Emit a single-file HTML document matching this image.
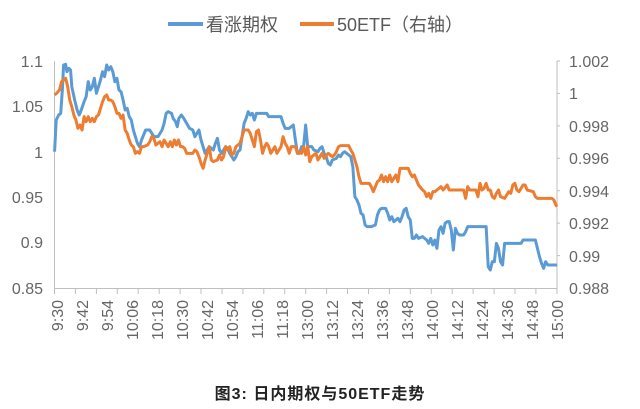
<!DOCTYPE html>
<html><head><meta charset="utf-8"><style>
body{margin:0;background:#fff;}
svg{display:block;font-family:"Liberation Sans","Noto Sans CJK SC",sans-serif;}
</style></head><body>
<svg width="640" height="409" viewBox="0 0 640 409">
<g fill="#666" font-size="16">
<text x="43" y="67" text-anchor="end">1.1</text>
<text x="43" y="112" text-anchor="end">1.05</text>
<text x="43" y="158" text-anchor="end">1</text>
<text x="43" y="203" text-anchor="end">0.95</text>
<text x="43" y="248" text-anchor="end">0.9</text>
<text x="43" y="294" text-anchor="end">0.85</text>
<text x="569" y="67">1.002</text>
<text x="569" y="99">1</text>
<text x="569" y="132">0.998</text>
<text x="569" y="164">0.996</text>
<text x="569" y="197">0.994</text>
<text x="569" y="229">0.992</text>
<text x="569" y="262">0.99</text>
<text x="569" y="294">0.988</text>
</g>
<g stroke="#bfbfbf" stroke-width="1" fill="none">
<line x1="54.5" y1="61" x2="54.5" y2="288"/>
<line x1="54.5" y1="288.5" x2="557" y2="288.5"/>
<line x1="557" y1="61" x2="557" y2="294"/>
</g>
<g stroke="#bfbfbf">
<line x1="54.5" y1="288" x2="54.5" y2="294"/><line x1="75.4" y1="288" x2="75.4" y2="294"/><line x1="96.4" y1="288" x2="96.4" y2="294"/><line x1="117.3" y1="288" x2="117.3" y2="294"/><line x1="138.2" y1="288" x2="138.2" y2="294"/><line x1="159.2" y1="288" x2="159.2" y2="294"/><line x1="180.1" y1="288" x2="180.1" y2="294"/><line x1="201" y1="288" x2="201" y2="294"/><line x1="222" y1="288" x2="222" y2="294"/><line x1="242.9" y1="288" x2="242.9" y2="294"/><line x1="263.8" y1="288" x2="263.8" y2="294"/><line x1="284.7" y1="288" x2="284.7" y2="294"/><line x1="305.7" y1="288" x2="305.7" y2="294"/><line x1="326.6" y1="288" x2="326.6" y2="294"/><line x1="347.5" y1="288" x2="347.5" y2="294"/><line x1="368.5" y1="288" x2="368.5" y2="294"/><line x1="389.4" y1="288" x2="389.4" y2="294"/><line x1="410.3" y1="288" x2="410.3" y2="294"/><line x1="431.3" y1="288" x2="431.3" y2="294"/><line x1="452.2" y1="288" x2="452.2" y2="294"/><line x1="473.1" y1="288" x2="473.1" y2="294"/><line x1="494.1" y1="288" x2="494.1" y2="294"/><line x1="515" y1="288" x2="515" y2="294"/><line x1="535.9" y1="288" x2="535.9" y2="294"/>
<line x1="557" y1="61" x2="560" y2="61"/><line x1="557" y1="93.4" x2="560" y2="93.4"/><line x1="557" y1="125.9" x2="560" y2="125.9"/><line x1="557" y1="158.3" x2="560" y2="158.3"/><line x1="557" y1="190.7" x2="560" y2="190.7"/><line x1="557" y1="223.1" x2="560" y2="223.1"/><line x1="557" y1="255.6" x2="560" y2="255.6"/>
</g>
<g fill="#666" font-size="16">
<text transform="translate(63,300) rotate(-90)" text-anchor="end">9:30</text>
<text transform="translate(88,300) rotate(-90)" text-anchor="end">9:42</text>
<text transform="translate(113,300) rotate(-90)" text-anchor="end">9:54</text>
<text transform="translate(138,300) rotate(-90)" text-anchor="end">10:06</text>
<text transform="translate(163,300) rotate(-90)" text-anchor="end">10:18</text>
<text transform="translate(188,300) rotate(-90)" text-anchor="end">10:30</text>
<text transform="translate(213,300) rotate(-90)" text-anchor="end">10:42</text>
<text transform="translate(238,300) rotate(-90)" text-anchor="end">10:54</text>
<text transform="translate(263,300) rotate(-90)" text-anchor="end">11:06</text>
<text transform="translate(288,300) rotate(-90)" text-anchor="end">11:18</text>
<text transform="translate(313,300) rotate(-90)" text-anchor="end">13:00</text>
<text transform="translate(338,300) rotate(-90)" text-anchor="end">13:12</text>
<text transform="translate(363,300) rotate(-90)" text-anchor="end">13:24</text>
<text transform="translate(388,300) rotate(-90)" text-anchor="end">13:36</text>
<text transform="translate(413,300) rotate(-90)" text-anchor="end">13:48</text>
<text transform="translate(438,300) rotate(-90)" text-anchor="end">14:00</text>
<text transform="translate(463,300) rotate(-90)" text-anchor="end">14:12</text>
<text transform="translate(488,300) rotate(-90)" text-anchor="end">14:24</text>
<text transform="translate(513,300) rotate(-90)" text-anchor="end">14:36</text>
<text transform="translate(538,300) rotate(-90)" text-anchor="end">14:48</text>
<text transform="translate(563,300) rotate(-90)" text-anchor="end">15:00</text>
</g>
<g transform="scale(0.41026,0.33333)" fill="none" stroke-linejoin="round">
<polyline vector-effect="non-scaling-stroke" stroke="#5b9bd5" stroke-width="3" points="133,455 137,360 143,345 148,340 152,270 155,195 160,193 163,215 168,205 172,210 175,260 182,300 188,330 193,345 198,330 205,305 210,290 215,245 220,270 225,260 230,235 235,280 240,260 245,240 250,215 255,230 260,195 265,210 270,200 275,215 280,245 285,235 290,270 295,275 300,300 305,330 310,325 315,350 320,360 325,390 330,410 335,430 340,440 345,420 350,405 355,390 360,390 365,390 370,400 375,410 385,410 395,390 400,370 405,340 410,335 418,340 422,355 428,365 432,380 436,355 442,345 448,355 455,370 462,385 470,390 475,410 480,400 485,390 490,420 495,440 500,460 505,450 510,440 520,450 525,430 530,415 535,450 540,460 545,450 550,440 555,445 560,460 565,470 570,480 575,470 580,455 585,450 590,410 595,370 600,355 605,335 610,345 615,340 620,360 625,340 650,340 655,350 685,350 690,370 695,385 705,385 710,380 715,375 720,420 725,460 730,460 735,440 740,440 745,375 750,440 760,440 765,450 775,455 780,445 785,440 790,460 795,470 800,490 805,495 810,480 820,475 825,465 830,470 835,460 840,455 845,460 850,465 855,470 860,500 865,590 870,600 875,615 880,640 885,645 890,675 895,680 905,680 915,675 920,645 925,630 930,625 940,625 945,640 950,660 955,650 960,665 970,655 975,665 980,650 985,630 990,625 995,650 1000,660 1005,715 1010,715 1015,705 1020,715 1030,710 1040,720 1045,730 1050,715 1055,735 1060,720 1065,745 1070,690 1075,680 1080,700 1085,670 1090,665 1095,665 1100,690 1105,750 1110,685 1115,700 1120,705 1130,705 1135,695 1140,680 1185,680 1190,800 1195,810 1200,785 1205,785 1210,730 1215,745 1220,785 1225,795 1230,730 1270,730 1275,720 1305,720 1310,745 1315,770 1320,790 1325,805 1330,785 1335,795 1358,795"/>
<polyline vector-effect="non-scaling-stroke" stroke="#ed7d31" stroke-width="3" points="133,285 138,280 145,270 150,245 155,240 160,235 165,260 170,300 175,320 180,345 185,360 190,385 195,375 200,390 205,350 210,365 215,350 220,365 225,355 230,365 235,350 240,345 245,325 250,305 255,290 260,285 265,300 270,300 275,305 280,320 285,340 290,340 295,355 300,345 305,390 310,400 315,420 320,435 325,440 330,460 335,455 340,460 345,440 350,440 360,435 365,425 370,410 375,415 380,435 385,430 390,425 395,440 400,420 405,430 410,440 415,425 420,440 425,420 430,435 435,420 440,440 445,440 450,445 455,460 470,460 475,450 480,455 485,470 490,490 495,505 500,480 505,460 510,440 515,480 520,485 530,480 535,465 540,480 545,470 550,440 555,450 560,440 565,465 570,460 575,440 580,435 585,430 590,410 595,390 605,390 610,400 615,420 620,440 625,395 630,390 635,420 640,460 645,440 650,430 655,440 660,460 670,440 675,460 680,450 685,440 690,410 695,430 700,440 705,460 710,440 720,440 725,460 730,455 735,460 740,440 745,465 750,440 755,485 760,470 770,460 775,480 780,470 785,460 790,475 800,460 810,470 815,465 820,455 825,440 830,437 850,437 855,450 860,460 870,500 875,530 880,550 900,550 905,560 910,575 915,560 920,545 925,540 930,525 935,545 940,530 945,545 950,525 955,545 960,535 965,525 970,545 975,505 995,505 1000,520 1005,530 1010,525 1015,540 1020,555 1030,570 1035,575 1040,590 1045,580 1050,595 1055,575 1060,575 1065,570 1075,560 1080,570 1090,555 1095,570 1130,570 1135,595 1140,560 1145,570 1160,570 1165,590 1170,550 1175,570 1180,565 1185,550 1190,570 1195,570 1200,590 1205,595 1210,580 1215,570 1220,590 1230,595 1240,575 1245,580 1250,555 1255,550 1260,570 1265,575 1275,555 1280,555 1285,570 1300,575 1305,590 1310,595 1345,595 1350,600 1355,615 1358,620"/>
</g>
<line x1="168" y1="24" x2="203" y2="24" stroke="#5b9bd5" stroke-width="4"/>
<text x="206" y="31" font-size="18" fill="#595959">看涨期权</text>
<line x1="300" y1="24" x2="334" y2="24" stroke="#ed7d31" stroke-width="4"/>
<text x="337" y="31" font-size="18" fill="#595959">50ETF（右轴）</text>
<text x="320" y="399" font-size="16" font-weight="bold" fill="#222" text-anchor="middle" letter-spacing="1">图3:  日内期权与50ETF走势</text>
</svg>
</body></html>
